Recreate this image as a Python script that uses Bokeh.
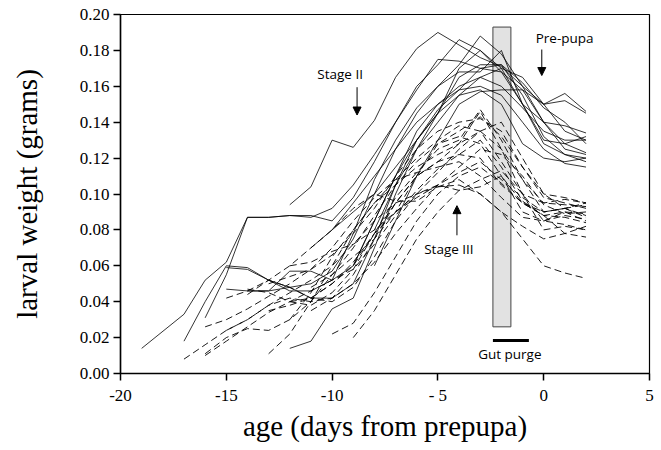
from bokeh.plotting import figure
from bokeh.models import Range1d, FixedTicker, Arrow, NormalHead, Label
from bokeh.embed import file_html
from bokeh.resources import INLINE

# ---- data ----
x_ticks = [-20, -15, -10, -5, 0, 5]
x_tick_labels = ["-20", "-15", "-10", "- 5", "0", "5"]
y_ticks = [0.00, 0.02, 0.04, 0.06, 0.08, 0.10, 0.12, 0.14, 0.16, 0.18, 0.20]

# Stage II larvae (solid lines)
stage2_x = [
    list(range(-12, 3)),
    [-19, -17, -16, -15, -14, -13, -12, -11, -10, -9, -8, -7, -6, -5, -4, -3, -2, -1, 0, 1, 2],
    list(range(-17, 3)),
    list(range(-16, 3)),
    list(range(-14, 3)),
    list(range(-12, 3)),
    list(range(-15, 3)),
    list(range(-15, 3)),
    list(range(-11, 3)),
    list(range(-10, 3)),
    list(range(-9, 3)),
    list(range(-8, 3)),
    list(range(-8, 3)),
]
stage2_y = [
    [0.094, 0.104, 0.130, 0.126, 0.141, 0.165, 0.181, 0.190, 0.183, 0.176, 0.171, 0.160, 0.150, 0.156, 0.146],
    [0.014, 0.033, 0.052, 0.062, 0.087, 0.087, 0.088, 0.087, 0.092, 0.105, 0.122, 0.140, 0.160, 0.172, 0.186, 0.180, 0.168, 0.158, 0.150, 0.152, 0.145],
    [0.018, 0.040, 0.060, 0.059, 0.052, 0.046, 0.046, 0.052, 0.078, 0.108, 0.130, 0.148, 0.160, 0.172, 0.188, 0.178, 0.160, 0.140, 0.128, 0.123],
    [0.031, 0.055, 0.087, 0.087, 0.088, 0.088, 0.085, 0.098, 0.118, 0.140, 0.158, 0.175, 0.174, 0.170, 0.172, 0.155, 0.132, 0.122, 0.118],
    [0.046, 0.046, 0.048, 0.050, 0.057, 0.075, 0.100, 0.125, 0.145, 0.160, 0.168, 0.168, 0.180, 0.150, 0.130, 0.128, 0.132],
    [0.014, 0.018, 0.036, 0.042, 0.070, 0.100, 0.125, 0.140, 0.155, 0.165, 0.170, 0.150, 0.128, 0.122, 0.120],
    [0.047, 0.046, 0.046, 0.057, 0.057, 0.052, 0.060, 0.085, 0.110, 0.135, 0.150, 0.160, 0.165, 0.160, 0.148, 0.135, 0.130, 0.130],
    [0.059, 0.058, 0.052, 0.048, 0.042, 0.042, 0.050, 0.075, 0.105, 0.130, 0.147, 0.158, 0.160, 0.155, 0.140, 0.125, 0.117, 0.115],
    [0.070, 0.080, 0.095, 0.110, 0.125, 0.140, 0.150, 0.158, 0.170, 0.168, 0.150, 0.140, 0.138, 0.134],
    [0.080, 0.090, 0.100, 0.115, 0.130, 0.145, 0.155, 0.158, 0.150, 0.128, 0.120, 0.118, 0.120],
    [0.060, 0.085, 0.110, 0.130, 0.145, 0.165, 0.172, 0.172, 0.162, 0.148, 0.140, 0.128],
    [0.080, 0.105, 0.125, 0.145, 0.170, 0.180, 0.170, 0.165, 0.150, 0.135, 0.130],
    [0.060, 0.085, 0.110, 0.130, 0.150, 0.157, 0.158, 0.158, 0.140, 0.125, 0.122],
]

# Stage III larvae (dashed lines)
stage3_x = [
    list(range(-17, 3)),
    list(range(-16, 3)),
    list(range(-15, 3)),
    list(range(-14, 3)),
    list(range(-13, 3)),
    list(range(-16, 3)),
    list(range(-10, 3)),
    list(range(-12, 3)),
    list(range(-14, 3)),
    list(range(-13, 3)),
    list(range(-12, 3)),
    list(range(-11, 3)),
    list(range(-15, 3)),
    list(range(-9, 3)),
    list(range(-12, 3)),
    list(range(-16, 3)),
    list(range(-11, 3)),
    list(range(-13, 3)),
]
stage3_y = [
    [0.008, 0.016, 0.024, 0.030, 0.038, 0.045, 0.052, 0.060, 0.072, 0.085, 0.095, 0.100, 0.104, 0.105, 0.100, 0.090, 0.075, 0.060, 0.056, 0.053],
    [0.011, 0.020, 0.025, 0.024, 0.030, 0.040, 0.055, 0.070, 0.088, 0.105, 0.118, 0.128, 0.132, 0.128, 0.110, 0.090, 0.085, 0.088, 0.086],
    [0.042, 0.046, 0.052, 0.048, 0.042, 0.040, 0.048, 0.065, 0.085, 0.100, 0.112, 0.125, 0.135, 0.140, 0.120, 0.100, 0.092, 0.094, 0.092],
    [0.047, 0.045, 0.040, 0.038, 0.045, 0.058, 0.078, 0.098, 0.112, 0.125, 0.130, 0.147, 0.130, 0.108, 0.095, 0.097, 0.095],
    [0.011, 0.022, 0.040, 0.060, 0.080, 0.095, 0.105, 0.115, 0.122, 0.128, 0.146, 0.125, 0.100, 0.080, 0.082, 0.080],
    [0.026, 0.030, 0.036, 0.043, 0.050, 0.058, 0.070, 0.085, 0.098, 0.108, 0.112, 0.115, 0.118, 0.110, 0.098, 0.087, 0.085, 0.090, 0.089],
    [0.022, 0.028, 0.045, 0.065, 0.085, 0.100, 0.110, 0.115, 0.106, 0.095, 0.090, 0.092, 0.087],
    [0.030, 0.045, 0.065, 0.080, 0.095, 0.108, 0.120, 0.130, 0.138, 0.135, 0.118, 0.100, 0.095, 0.094, 0.093],
    [0.044, 0.052, 0.060, 0.070, 0.080, 0.092, 0.100, 0.096, 0.096, 0.104, 0.108, 0.100, 0.090, 0.082, 0.075, 0.078, 0.076],
    [0.050, 0.054, 0.058, 0.066, 0.078, 0.092, 0.110, 0.125, 0.135, 0.140, 0.142, 0.135, 0.115, 0.100, 0.098, 0.095],
    [0.040, 0.042, 0.050, 0.062, 0.078, 0.090, 0.100, 0.105, 0.102, 0.104, 0.110, 0.095, 0.088, 0.090, 0.085],
    [0.048, 0.055, 0.065, 0.075, 0.090, 0.110, 0.128, 0.135, 0.143, 0.132, 0.115, 0.098, 0.095, 0.092],
    [0.024, 0.030, 0.038, 0.042, 0.040, 0.042, 0.050, 0.062, 0.078, 0.092, 0.105, 0.115, 0.125, 0.122, 0.110, 0.094, 0.089, 0.090],
    [0.020, 0.035, 0.055, 0.075, 0.090, 0.102, 0.108, 0.113, 0.100, 0.085, 0.083, 0.080],
    [0.060, 0.062, 0.068, 0.072, 0.080, 0.090, 0.098, 0.105, 0.112, 0.118, 0.108, 0.098, 0.090, 0.092, 0.088],
    [0.010, 0.018, 0.026, 0.034, 0.040, 0.046, 0.052, 0.058, 0.072, 0.088, 0.102, 0.114, 0.122, 0.130, 0.115, 0.096, 0.088, 0.087, 0.084],
    [0.035, 0.042, 0.055, 0.075, 0.095, 0.110, 0.118, 0.122, 0.120, 0.105, 0.095, 0.088, 0.078, 0.082],
    [0.035, 0.038, 0.042, 0.050, 0.060, 0.078, 0.095, 0.110, 0.118, 0.128, 0.135, 0.125, 0.108, 0.090, 0.092, 0.095],
]

# gut purge period (shaded box) and bar
purge_box_x = [-2.4, -1.55]
purge_box_y = [0.026, 0.193]
purge_bar_x = [-2.4, -0.7]
purge_bar_y = 0.0184

SERIF = "Times New Roman"

# ---- figure ----
p = figure(width=661, height=450, output_backend="svg", toolbar_location=None,
           x_range=Range1d(-20, 5), y_range=Range1d(0, 0.2),
           min_border_left=120, min_border_right=12, min_border_top=14, min_border_bottom=77)
p.xgrid.visible = False
p.ygrid.visible = False
p.outline_line_color = "black"
p.outline_line_width = 1.2
p.background_fill_color = "white"
p.border_fill_color = "white"

# shaded gut purge box
p.quad(left=[purge_box_x[0]], right=[purge_box_x[1]], bottom=[purge_box_y[0]], top=[purge_box_y[1]],
       fill_color="#e2e2e2", line_color="#444444", line_width=1)

for xs, ys in zip(stage2_x, stage2_y):
    p.line(xs, ys, line_color="black", line_width=0.8)
for xs, ys in zip(stage3_x, stage3_y):
    p.line(xs, ys, line_color="black", line_width=0.9, line_dash="7 4")

# gut purge bar
p.line(purge_bar_x, [purge_bar_y, purge_bar_y], line_color="black", line_width=3)

# axes
for ax in (p.xaxis[0], p.yaxis[0]):
    ax.axis_line_width = 1.5
    ax.major_tick_line_width = 1.5
    ax.major_tick_out = 7
    ax.major_tick_in = 0
    ax.minor_tick_out = 0
    ax.minor_tick_in = 0
    ax.major_label_text_font = SERIF
    ax.major_label_text_font_size = "17px"
    ax.major_label_text_color = "black"
    ax.axis_label_text_font = SERIF
    ax.axis_label_text_font_size = "29px"
    ax.axis_label_text_font_style = "normal"
    ax.axis_label_text_color = "black"

p.xaxis.ticker = FixedTicker(ticks=x_ticks)
p.xaxis.major_label_overrides = {t: l for t, l in zip(x_ticks, x_tick_labels)}
p.yaxis.ticker = FixedTicker(ticks=y_ticks)
p.yaxis.major_label_overrides = {t: f"{t:.2f}" for t in y_ticks}
p.xaxis.axis_label = "age (days from prepupa)"
p.yaxis.axis_label = "larval weight (grams)"
p.xaxis.major_label_standoff = 5
p.yaxis.major_label_standoff = 4
p.xaxis.axis_label_standoff = 2
p.yaxis.axis_label_standoff = 34

# annotations
def label(x, y, t):
    p.add_layout(Label(x=x, y=y, text=t, text_font="Open Sans", text_font_size="13.5px",
                       text_align="center", text_baseline="middle", text_color="black"))

def arrow(x0, y0, x1, y1):
    p.add_layout(Arrow(end=NormalHead(size=8, fill_color="black", line_color="black"),
                       x_start=x0, y_start=y0, x_end=x1, y_end=y1,
                       line_color="black", line_width=1))

label(-9.62, 0.167, "Stage II")
arrow(-8.82, 0.1595, -8.82, 0.1440)
label(0.99, 0.187, "Pre-pupa")
arrow(-0.09, 0.1805, -0.09, 0.1660)
label(-4.48, 0.0696, "Stage III")
arrow(-4.10, 0.0770, -4.10, 0.0935)
label(-1.60, 0.0111, "Gut purge")

open("out.html", "w").write(file_html(p, INLINE))
